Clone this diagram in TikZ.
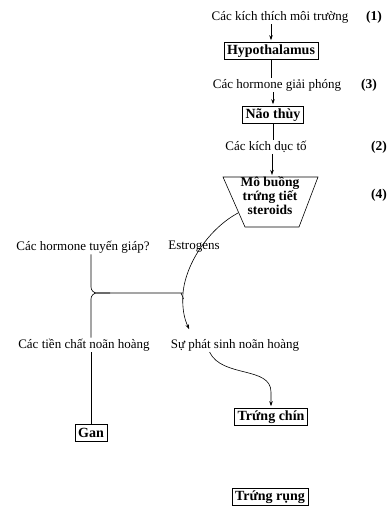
\documentclass[tikz,border=0pt]{standalone}
\usepackage{fontspec}
\setmainfont{Liberation Serif}
\usetikzlibrary{positioning,calc,arrows.meta}

\begin{document}
\begin{tikzpicture}[x=1pt, y=-1pt,
  txt/.style={font=\fontsize{13}{15}\selectfont, inner sep=1pt},
  num/.style={font=\fontsize{13.5}{15}\selectfont\bfseries, inner sep=1pt},
  organ/.style={draw, line width=0.6pt, font=\fontsize{14}{16}\selectfont\bfseries,
    inner xsep=3pt, inner ysep=1.5pt, minimum height=17pt},
  arr/.style={line width=0.6pt, -{Stealth[length=5pt, width=3.5pt]}, shorten >=2pt},
  link/.style={line width=0.6pt}]
  \useasboundingbox (0,0) rectangle (388,506);

  % Hypothalamus - pituitary - ovary axis
  \node[txt] (stim) at (280,17) {Các kích thích môi trường};
  \node[organ] (hypo) at (271,51) {Hypothalamus};
  \node[txt] (rel) at (277,85) {Các hormone giải phóng};
  \node[organ] (pit) at (273,115) {Não thùy};
  \node[txt] (gon) at (266,147) {Các kích dục tố};
  % Ovary trapezoid
  \coordinate (ovtop) at (272,177);
  \coordinate (ovleft) at (238,213);
  \draw[link] (223,177) -- (318,177) -- (299,227) -- (245,227) -- cycle;
  \node[font=\fontsize{13.5}{14}\selectfont\bfseries, align=center, inner sep=0pt]
    (ovary) at (270,196) {Mô buồng\\trứng tiết\\steroids};

  % Step numbers
  \foreach \lab/\xx/\yy in {1/374/17, 3/369/85, 2/379/147, 4/379/195}{
    \node[num] (n\lab) at (\xx,\yy) {(\lab)};
  }

  \draw[arr] (stim.south -| hypo.north) -- (hypo.north);
  \draw[link] (hypo.south) -- (hypo.south |- rel.north);
  \draw[arr] (rel.south -| pit.north) -- (pit.north);
  \draw[link] (pit.south) -- (pit.south |- gon.north);
  \draw[arr] (gon.south -| ovtop) -- (ovtop);

  % Lower part: estrogens and vitellogenesis
  \node[txt] (thyr) at (83,247) {Các hormone tuyến giáp?};
  \node[txt] (estr) at (194,247) {Estrogens};
  \node[txt] (prec) at (84,345) {Các tiền chất noãn hoàng};
  \node[txt] (vitel) at (235,345) {Sự phát sinh noãn hoàng};
  \node[organ] (liver) at (91,433) {Gan};
  \node[organ] (mature) at (271,417) {Trứng chín};
  \node[organ] (ovul) at (270,497) {Trứng rụng};
  \coordinate (vtip) at (190,331);

  % Estrogen arc
  \draw[arr] (ovleft) .. controls (210,228) and (186,262) .. (183,293)
    .. controls (182,308) and (184,318) .. (vtip);
  % Thyroid branch and liver
  \draw[link, rounded corners=6pt] (thyr.south -| liver.north) |- (176,293)
    to[out=0, in=100] (183.5,299);
  \draw[link, rounded corners=6pt] (prec.north -| liver.north) |- (110,293);
  \draw[link] (prec.south -| liver.north) -- (liver.north);
  % Vitellogenesis to maturation
  \draw[arr] ([xshift=40pt]vitel.south west) .. controls (222,378) and (271,366)
    .. (271,392) -- (mature.north);
\end{tikzpicture}
\end{document}
